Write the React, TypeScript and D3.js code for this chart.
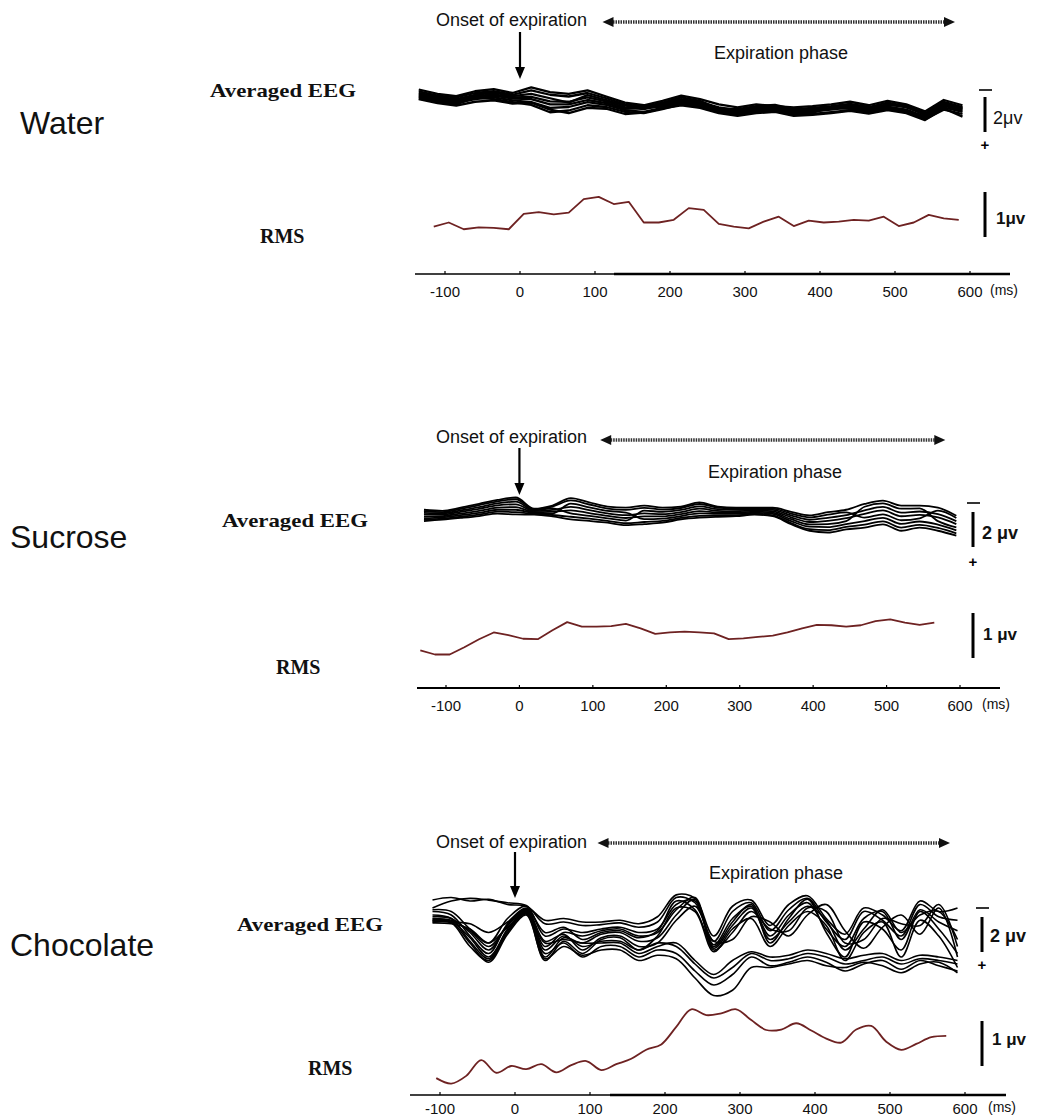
import React, { useRef, useEffect } from 'react';
import * as d3 from 'd3';

const W = 1038;
const H = 1119;
const SANS = '"Liberation Sans", Arial, sans-serif';
const SERIF = '"Liberation Serif", "Times New Roman", serif';

// time axis (ms)
const tickValues = [-100, 0, 100, 200, 300, 400, 500, 600];
const expirationPhase = [110, 580];

// ---------- Water ----------
const waterEegTimes = d3.range(-135, 591, 25);
const waterEeg = [
  [-0.60,-0.35,-0.22,-0.50,-0.62,-0.40,-0.72,-0.45,-0.35,-0.55,-0.20,0.15,0.30,0.05,-0.25,-0.05,0.25,0.42,0.25,0.35,0.42,0.35,0.25,0.10,0.30,0.05,0.25,0.65,0.00,0.30],
  [-0.50,-0.25,-0.15,-0.40,-0.50,-0.30,-0.55,-0.30,-0.20,-0.40,-0.10,0.25,0.38,0.15,-0.15,0.05,0.50,0.52,0.35,0.28,0.52,0.45,0.35,0.22,0.40,0.15,0.35,0.75,0.10,0.40],
  [-0.40,-0.18,-0.05,-0.30,-0.42,-0.22,-0.35,-0.10,0.15,-0.28,0.00,0.32,0.45,0.22,-0.05,0.12,0.42,0.58,0.42,0.35,0.58,0.52,0.42,0.30,0.46,0.25,0.42,0.82,0.18,0.46],
  [-0.32,-0.10,0.02,-0.22,-0.32,-0.15,-0.18,0.08,0.10,-0.15,0.08,0.42,0.52,0.30,0.02,0.18,0.48,0.64,0.48,0.42,0.64,0.58,0.48,0.36,0.52,0.30,0.30,0.88,0.24,0.52],
  [-0.25,-0.02,0.10,-0.15,-0.25,-0.08,-0.05,0.25,0.25,0.00,0.18,0.50,0.45,0.38,0.10,0.25,0.55,0.70,0.55,0.48,0.70,0.65,0.55,0.42,0.58,0.38,0.55,0.95,0.32,0.60],
  [-0.18,0.05,0.18,-0.05,-0.15,0.02,0.12,0.45,0.40,0.12,0.28,0.58,0.68,0.45,0.18,0.32,0.62,0.78,0.62,0.55,0.78,0.72,0.45,0.50,0.65,0.45,0.62,1.02,0.42,0.68],
  [-0.10,0.12,0.25,-0.15,-0.05,0.12,0.28,0.70,0.60,0.30,0.40,0.68,0.75,0.52,0.25,0.40,0.70,0.85,0.70,0.62,0.85,0.80,0.70,0.58,0.72,0.52,0.70,1.10,0.55,0.80],
  [-0.05,0.18,0.32,0.10,0.02,0.20,0.15,0.55,0.75,0.45,0.50,0.80,0.72,0.48,0.30,0.45,0.75,0.90,0.75,0.68,0.90,0.85,0.75,0.62,0.78,0.58,0.75,1.15,0.48,0.95],
];
const waterRmsTimes = d3.range(-115, 586, 20);
const waterRms = [1.01,1.10,0.95,0.99,0.98,0.95,1.29,1.33,1.28,1.32,1.62,1.67,1.51,1.56,1.10,1.10,1.16,1.42,1.38,1.07,1.01,0.97,1.12,1.23,1.02,1.14,1.10,1.12,1.16,1.14,1.23,1.02,1.10,1.27,1.19,1.16];

// ---------- Sucrose ----------
const sucroseEegTimes = d3.range(-130, 596, 25);
const sucroseEeg = [
  [-0.30,-0.24,-0.42,-0.64,-0.86,-1.00,-0.36,-0.54,-0.96,-0.72,-0.48,-0.42,-0.54,-0.42,-0.48,-0.72,-0.48,-0.42,-0.42,-0.42,-0.18,0.02,-0.16,-0.30,-0.63,-0.82,-0.54,-0.54,-0.42,0.04],
  [-0.22,-0.17,-0.35,-0.56,-0.78,-0.90,-0.33,-0.48,-0.83,-0.60,-0.37,-0.29,-0.41,-0.31,-0.40,-0.63,-0.42,-0.36,-0.38,-0.36,-0.08,0.13,-0.02,-0.15,0.15,-0.04,0.30,0.19,-0.25,0.17],
  [-0.12,-0.10,-0.26,-0.45,-0.66,-0.76,-0.27,-0.38,-0.09,0.05,0.19,0.32,-0.25,-0.18,-0.29,-0.49,-0.33,-0.29,-0.32,-0.29,0.02,0.27,0.16,0.01,-0.27,-0.46,-0.14,-0.20,-0.05,0.35],
  [-0.03,-0.02,-0.18,-0.35,-0.55,-0.61,-0.22,-0.29,-0.46,-0.28,-0.09,0.01,-0.09,-0.05,-0.17,-0.36,-0.24,-0.21,-0.26,-0.21,0.13,0.40,0.33,0.18,-0.07,-0.26,0.07,-0.01,0.14,0.52],
  [0.08,0.06,-0.08,-0.23,-0.42,-0.45,-0.16,-0.19,-0.27,-0.11,0.05,0.17,0.08,0.08,-0.05,-0.22,-0.15,-0.13,-0.19,-0.13,0.24,0.54,0.52,0.35,-0.47,-0.66,-0.36,-0.38,0.35,0.71],
  [0.18,0.13,0.01,-0.12,-0.30,-0.30,-0.11,-0.09,-0.65,-0.44,-0.23,-0.14,0.24,0.21,0.06,-0.09,-0.06,-0.06,-0.13,-0.06,0.35,0.67,0.69,0.52,0.35,0.16,0.51,0.37,0.55,0.88],
  [0.28,0.21,0.10,-0.02,-0.19,-0.16,-0.06,0.00,0.10,0.21,0.33,0.47,0.40,0.34,0.17,0.05,0.03,0.02,-0.07,0.02,0.46,0.81,0.86,0.68,0.55,0.36,0.72,0.56,0.74,1.05],
  [0.35,0.27,0.17,0.06,-0.08,-0.03,-0.02,0.08,0.25,0.34,0.44,0.58,0.52,0.44,0.25,0.15,0.10,0.07,-0.02,0.07,0.53,0.90,1.00,0.82,0.72,0.53,0.90,0.72,0.90,1.18],
];
const sucroseRmsTimes = d3.range(-135, 566, 20);
const sucroseRms = [0.79,0.70,0.70,0.86,1.04,1.19,1.13,1.05,1.04,1.24,1.42,1.32,1.32,1.33,1.38,1.28,1.16,1.19,1.21,1.19,1.17,1.04,1.06,1.09,1.12,1.19,1.28,1.36,1.35,1.32,1.35,1.44,1.48,1.41,1.36,1.41];

// ---------- Chocolate ----------
const chocolateEegTimes = d3.range(-110, 591, 25);
const chocolateEeg = [
  [-0.86,-1.00,-0.80,-0.90,-0.60,-0.50,0.30,0.20,0.40,0.40,0.30,0.50,0.10,-1.15,-0.95,1.20,-0.50,-0.85,0.60,-0.60,-1.10,0.20,1.10,-0.40,0.00,0.90,-0.80,-0.20,-0.40],
  [-0.40,-0.80,-0.95,-0.85,-0.70,-0.55,0.50,0.40,0.60,0.55,0.45,0.70,0.40,-1.00,-0.70,1.50,-0.20,-0.70,0.90,-0.30,-0.95,0.40,1.40,-0.20,0.30,1.20,-0.60,0.10,0.30],
  [-0.30,-0.20,0.80,1.60,0.20,-0.50,1.20,0.80,1.00,0.80,0.70,1.00,0.80,-0.60,-0.80,1.70,0.20,-0.50,1.20,0.00,-0.70,0.80,1.80,0.20,-0.20,1.40,-0.30,0.40,0.90],
  [-0.20,0.00,1.20,2.20,0.50,-0.30,1.80,1.00,1.20,0.90,0.80,1.20,1.00,-0.30,-1.00,1.90,0.60,-0.40,1.40,0.40,-0.50,0.30,2.00,0.80,-0.30,1.00,0.00,-0.20,1.40],
  [0.00,0.20,1.50,2.50,0.80,-0.20,2.40,1.30,1.60,1.10,1.00,1.50,1.30,0.00,-0.90,2.00,1.00,-0.20,0.80,0.90,-0.40,-0.20,1.60,1.40,0.20,0.50,0.60,-0.60,1.80],
  [0.20,0.30,0.90,1.80,0.60,-0.35,1.50,1.10,2.00,1.30,1.20,1.80,1.60,0.30,-0.50,1.50,1.40,0.10,0.40,1.20,0.00,-0.60,0.90,1.90,0.70,0.00,1.10,-0.40,2.40],
  [0.30,0.40,0.50,1.00,0.40,-0.40,1.00,0.70,1.40,1.00,0.90,1.30,0.90,-0.80,-0.30,1.80,0.40,-0.60,1.60,0.20,-0.90,1.00,2.40,0.40,0.80,2.00,-0.20,0.80,2.20],
  [0.40,0.45,1.80,2.60,1.00,-0.10,2.60,1.50,2.20,1.40,1.30,2.00,1.20,-0.40,-0.20,2.10,0.80,0.20,1.80,0.60,-0.20,0.60,2.60,1.00,0.40,2.40,0.30,1.20,3.00],
  [0.10,0.20,1.00,2.00,0.60,-0.25,2.00,1.20,1.80,1.50,1.50,2.00,1.60,1.80,2.80,3.60,3.00,2.20,2.60,2.50,2.20,2.40,2.80,2.60,2.40,2.80,2.50,2.60,2.80],
  [0.25,0.35,1.30,2.40,0.90,-0.15,2.20,1.60,2.40,1.80,1.80,2.40,2.00,2.20,3.20,4.00,3.40,2.40,2.90,2.70,2.40,2.70,3.20,2.80,2.60,3.10,2.60,2.90,3.20],
  [0.35,0.40,1.60,2.70,1.10,0.00,2.50,1.80,2.30,2.00,2.00,2.60,2.30,2.50,3.60,4.60,4.30,3.00,3.00,2.80,2.60,2.90,3.00,2.70,2.90,3.30,2.80,2.70,3.30],
  [0.45,0.50,0.80,1.60,0.70,-0.05,1.60,1.40,1.60,1.60,1.60,2.20,1.80,1.60,2.60,3.40,2.60,2.10,2.40,2.30,2.00,2.20,2.50,2.30,2.20,2.60,2.30,2.40,2.60],
];
const chocolateRmsTimes = d3.range(-105, 576, 20);
const chocolateRms = [0.33,0.21,0.38,0.73,0.45,0.60,0.53,0.64,0.46,0.62,0.71,0.51,0.64,0.76,0.96,1.08,1.47,1.86,1.73,1.77,1.86,1.62,1.40,1.41,1.55,1.39,1.21,1.12,1.41,1.49,1.14,0.96,1.09,1.24,1.27];

const EEG_PX = 17.5; // px per µV
const RMS_PX = 45;   // px per µV

// panel geometry
const panels = [
  {
    name: 'Water', eeg: waterEeg, eegTimes: waterEegTimes, rms: waterRms, rmsTimes: waterRmsTimes,
    eegCurve: d3.curveLinear, rmsCurve: d3.curveLinear, eegStroke: 2.3, eegScaleText: '2μv', scaleBold: false,
    xRange: [445, 970], eegZero: 100, rmsZero: 272,
    nameX: 20, nameY: 134, eegLabelX: 210, eegLabelY: 97, rmsLabelX: 260, rmsLabelY: 243,
    onsetY: 26, phaseY: 22, phaseTextY: 59, arrowTop: 32, arrowBottom: 79,
    barX: 985, minusY: 90, eegBarTop: 97, plusY: 150, eegTextX: 993, eegTextY: 124,
    rmsBarTop: 192, rmsTextX: 996, rmsTextY: 224,
    axisY: 274, axisX: [415, 1010], thickFrom: 614, tickY: 297, msX: 990,
  },
  {
    name: 'Sucrose', eeg: sucroseEeg, eegTimes: sucroseEegTimes, rms: sucroseRms, rmsTimes: sucroseRmsTimes,
    eegCurve: d3.curveMonotoneX, rmsCurve: d3.curveLinear, eegStroke: 1.8, eegScaleText: '2 μv', scaleBold: true,
    xRange: [446, 960], eegZero: 515, rmsZero: 686,
    nameX: 10, nameY: 548, eegLabelX: 222, eegLabelY: 527, rmsLabelX: 276, rmsLabelY: 674,
    onsetY: 443, phaseY: 440, phaseTextY: 478, arrowTop: 448, arrowBottom: 495,
    barX: 973, minusY: 503, eegBarTop: 512, plusY: 567, eegTextX: 982, eegTextY: 539,
    rmsBarTop: 613, rmsTextX: 983, rmsTextY: 640,
    axisY: 688, axisX: [417, 1000], thickFrom: null, tickY: 711, msX: 982,
  },
  {
    name: 'Chocolate', eeg: chocolateEeg, eegTimes: chocolateEegTimes, rms: chocolateRms, rmsTimes: chocolateRmsTimes,
    eegCurve: d3.curveCatmullRom, rmsCurve: d3.curveCatmullRom, eegStroke: 1.6, eegScaleText: '2 μv', scaleBold: true,
    xRange: [440, 965], eegZero: 915, rmsZero: 1093,
    nameX: 10, nameY: 956, eegLabelX: 237, eegLabelY: 931, rmsLabelX: 308, rmsLabelY: 1075,
    onsetY: 848, phaseY: 843, phaseTextY: 879, arrowTop: 852, arrowBottom: 898,
    barX: 982, minusY: 908, eegBarTop: 917, plusY: 970, eegTextX: 990, eegTextY: 942,
    rmsBarTop: 1021, rmsTextX: 992, rmsTextY: 1045,
    axisY: 1095, axisX: [410, 1006], thickFrom: 610, tickY: 1114, msX: 988,
  },
];

function drawPanel(svg: any, p: any) {
  const x = d3.scaleLinear().domain([-100, 600]).range(p.xRange);
  // negative up, as in the original EEG plots
  const yEeg = d3.scaleLinear().domain([-1, 1]).range([p.eegZero - EEG_PX, p.eegZero + EEG_PX]);
  const yRms = d3.scaleLinear().domain([0, 1]).range([p.rmsZero, p.rmsZero - RMS_PX]);
  const g = svg.append('g');

  // labels on the left
  g.append('text').attr('x', p.nameX).attr('y', p.nameY)
    .attr('font-family', SANS).attr('font-size', 32).attr('fill', '#111').text(p.name);
  g.append('text').attr('x', p.eegLabelX).attr('y', p.eegLabelY)
    .attr('font-family', SERIF).attr('font-weight', 'bold').attr('font-size', 19)
    .attr('textLength', 146).attr('lengthAdjust', 'spacingAndGlyphs').attr('fill', '#111')
    .text('Averaged EEG');
  g.append('text').attr('x', p.rmsLabelX).attr('y', p.rmsLabelY)
    .attr('font-family', SERIF).attr('font-weight', 'bold').attr('font-size', 20).attr('fill', '#111')
    .text('RMS');

  // annotations
  const x0 = x(0);
  g.append('text').attr('x', 436).attr('y', p.onsetY)
    .attr('font-family', SANS).attr('font-size', 18).attr('fill', '#111').text('Onset of expiration');
  g.append('line').attr('x1', x0).attr('x2', x0).attr('y1', p.arrowTop).attr('y2', p.arrowBottom - 10)
    .attr('stroke', '#000').attr('stroke-width', 2.2);
  g.append('path')
    .attr('d', `M${x0 - 5},${p.arrowBottom - 12} L${x0 + 5},${p.arrowBottom - 12} L${x0},${p.arrowBottom} Z`)
    .attr('fill', '#000');

  const px0 = x(expirationPhase[0]);
  const px1 = x(expirationPhase[1]);
  g.append('line').attr('x1', px0 + 8).attr('x2', px1 - 8).attr('y1', p.phaseY).attr('y2', p.phaseY)
    .attr('stroke', '#333').attr('stroke-width', 3.5).attr('stroke-dasharray', '1.5,1');
  g.append('path')
    .attr('d', `M${px0},${p.phaseY} L${px0 + 11},${p.phaseY - 5} L${px0 + 11},${p.phaseY + 5} Z`).attr('fill', '#111');
  g.append('path')
    .attr('d', `M${px1},${p.phaseY} L${px1 - 11},${p.phaseY - 5} L${px1 - 11},${p.phaseY + 5} Z`).attr('fill', '#111');
  g.append('text').attr('x', x(348)).attr('y', p.phaseTextY).attr('text-anchor', 'middle')
    .attr('font-family', SANS).attr('font-size', 18).attr('fill', '#111').text('Expiration phase');

  // EEG traces
  const eegLine = d3.line<number>()
    .x((d, i) => x(p.eegTimes[i]))
    .y(d => yEeg(d))
    .curve(p.eegCurve);
  p.eeg.forEach((tr: number[]) => {
    g.append('path').attr('d', eegLine(tr)).attr('fill', 'none')
      .attr('stroke', '#000').attr('stroke-width', p.eegStroke).attr('stroke-linejoin', 'round');
  });

  // RMS trace
  const rmsLine = d3.line<number>()
    .x((d, i) => x(p.rmsTimes[i]))
    .y(d => yRms(d))
    .curve(p.rmsCurve);
  g.append('path').attr('d', rmsLine(p.rms)).attr('fill', 'none')
    .attr('stroke', '#6e2222').attr('stroke-width', 1.8).attr('stroke-linejoin', 'round');

  // calibration bars
  const eegLen = Math.abs(yEeg(2) - yEeg(0));
  const rmsLen = Math.abs(yRms(1) - yRms(0));
  g.append('line').attr('x1', p.barX - 6).attr('x2', p.barX + 7).attr('y1', p.minusY).attr('y2', p.minusY)
    .attr('stroke', '#000').attr('stroke-width', 1.6);
  g.append('line').attr('x1', p.barX).attr('x2', p.barX).attr('y1', p.eegBarTop).attr('y2', p.eegBarTop + eegLen)
    .attr('stroke', '#000').attr('stroke-width', 3);
  g.append('text').attr('x', p.barX).attr('y', p.plusY).attr('text-anchor', 'middle')
    .attr('font-family', SANS).attr('font-weight', 'bold').attr('font-size', 15).text('+');
  g.append('text').attr('x', p.eegTextX).attr('y', p.eegTextY)
    .attr('font-family', SANS).attr('font-weight', p.scaleBold ? 'bold' : 'normal').attr('font-size', 18)
    .attr('fill', '#111').text(p.eegScaleText);
  g.append('line').attr('x1', p.barX).attr('x2', p.barX).attr('y1', p.rmsBarTop).attr('y2', p.rmsBarTop + rmsLen)
    .attr('stroke', '#000').attr('stroke-width', 3);
  g.append('text').attr('x', p.rmsTextX).attr('y', p.rmsTextY)
    .attr('font-family', SANS).attr('font-weight', 'bold').attr('font-size', 17)
    .attr('fill', '#111').text(p.scaleBold ? '1 μv' : '1μv');

  // time axis
  if (p.thickFrom) {
    g.append('line').attr('x1', p.axisX[0]).attr('x2', p.thickFrom).attr('y1', p.axisY).attr('y2', p.axisY)
      .attr('stroke', '#000').attr('stroke-width', 1.6);
    g.append('line').attr('x1', p.thickFrom).attr('x2', p.axisX[1]).attr('y1', p.axisY).attr('y2', p.axisY)
      .attr('stroke', '#000').attr('stroke-width', 2.6);
  } else {
    g.append('line').attr('x1', p.axisX[0]).attr('x2', p.axisX[1]).attr('y1', p.axisY).attr('y2', p.axisY)
      .attr('stroke', '#000').attr('stroke-width', 1.8);
  }
  tickValues.forEach(t => {
    g.append('line').attr('x1', x(t)).attr('x2', x(t)).attr('y1', p.axisY - 3).attr('y2', p.axisY)
      .attr('stroke', '#000').attr('stroke-width', 1.2);
    g.append('text').attr('x', x(t)).attr('y', p.tickY).attr('text-anchor', 'middle')
      .attr('font-family', SANS).attr('font-size', 15).attr('fill', '#111').text(String(t));
  });
  g.append('text').attr('x', p.msX).attr('y', p.tickY - 2)
    .attr('font-family', SANS).attr('font-size', 14).attr('fill', '#111').text('(ms)');
}

const App = () => {
  const svgRef = useRef<SVGSVGElement>(null);

  useEffect(() => {
    if (!svgRef.current) return;
    const svg = d3.select(svgRef.current);
    svg.selectAll('*').remove();
    svg.append('rect').attr('width', W).attr('height', H).attr('fill', '#fff');
    panels.forEach(p => drawPanel(svg, p));
  }, []);

  return (
    <div style={{ position: 'absolute', left: 0, top: 0, width: W, height: H, background: '#fff' }}>
      <svg ref={svgRef} width={W} height={H} style={{ display: 'block' }}></svg>
    </div>
  );
};

export default App;
